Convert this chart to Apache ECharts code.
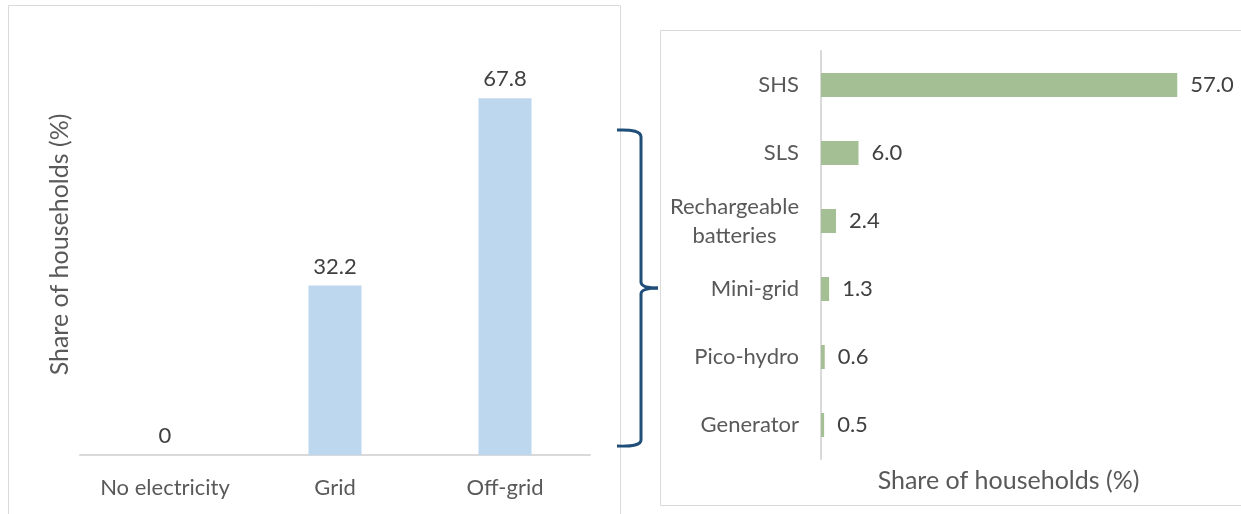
<!DOCTYPE html>
<html>
<head>
<meta charset="utf-8">
<script src="https://cdn.jsdelivr.net/npm/echarts@6/dist/echarts.min.js"></script>
<style>
  html, body { margin: 0; padding: 0; background: #fff; }
  #chart { width: 1241px; height: 514px; }
</style>
</head>
<body>
<div id="chart"></div>
<script>
// left panel: access to electricity
const accessCategories = ['No electricity', 'Grid', 'Off-grid'];
const accessValues = [0, 32.2, 67.8];

// right panel: off-grid breakdown (top to bottom)
const offgridCategories = ['SHS', 'SLS', 'Rechargeable\nbatteries', 'Mini-grid', 'Pico-hydro', 'Generator'];
const offgridValues = [57.0, 6.0, 2.4, 1.3, 0.6, 0.5];

const font = 'Lato';
const textColor = '#595959';

const myChart = echarts.init(document.getElementById('chart'));

// curly brace linking off-grid to the breakdown
const braceStyle = { stroke: '#1f4e79', lineWidth: 3, fill: 'none' };
const brace = [
  { type: 'bezierCurve', shape: { x1: 617, y1: 130, cpx1: 641, cpy1: 129, x2: 641, y2: 137 } },
  { type: 'line', shape: { x1: 641, y1: 137, x2: 641, y2: 282 } },
  { type: 'bezierCurve', shape: { x1: 641, y1: 282, cpx1: 641, cpy1: 288, x2: 658, y2: 288 } },
  { type: 'bezierCurve', shape: { x1: 658, y1: 288, cpx1: 641, cpy1: 288, x2: 641, y2: 294 } },
  { type: 'line', shape: { x1: 641, y1: 294, x2: 641, y2: 440 } },
  { type: 'bezierCurve', shape: { x1: 641, y1: 440, cpx1: 641, cpy1: 447, x2: 617, y2: 446 } }
].map(function (g) { g.style = braceStyle; return g; });

const option = {
  animation: false,
  textStyle: { fontFamily: font },
  graphic: [
    {
      type: 'rect',
      shape: { x: 8.5, y: 5.5, width: 612, height: 520 },
      style: { fill: 'none', stroke: '#d9d9d9', lineWidth: 1 },
      z: -1
    },
    {
      type: 'rect',
      shape: { x: 660.5, y: 30.5, width: 600, height: 475 },
      style: { fill: 'none', stroke: '#d9d9d9', lineWidth: 1 },
      z: -1
    }
  ].concat(brace),
  grid: [
    { left: 80, right: 651, top: 34, bottom: 59 },
    { left: 821, right: 45, top: 51, bottom: 55 }
  ],
  xAxis: [
    {
      gridIndex: 0,
      type: 'category',
      data: accessCategories,
      axisLine: { lineStyle: { color: '#d9d9d9', width: 2 } },
      axisTick: { show: false },
      axisLabel: { color: textColor, fontSize: 22, margin: 22, fontFamily: font }
    },
    {
      gridIndex: 1,
      type: 'value',
      min: 0,
      max: 60,
      axisLine: { show: false },
      axisTick: { show: false },
      axisLabel: { show: false },
      splitLine: { show: false },
      name: 'Share of households (%)',
      nameLocation: 'middle',
      nameGap: 9,
      nameTextStyle: { color: textColor, fontSize: 25, fontFamily: font }
    }
  ],
  yAxis: [
    {
      gridIndex: 0,
      type: 'value',
      min: 0,
      max: 80,
      axisLine: { show: false },
      axisTick: { show: false },
      axisLabel: { show: false },
      splitLine: { show: false },
      name: 'Share of households (%)',
      nameLocation: 'middle',
      nameGap: 8,
      nameTextStyle: { color: textColor, fontSize: 25, fontFamily: font }
    },
    {
      gridIndex: 1,
      type: 'category',
      inverse: true,
      data: offgridCategories,
      axisLine: { lineStyle: { color: '#d9d9d9', width: 2 } },
      axisTick: { show: false },
      axisLabel: {
        color: textColor,
        fontSize: 22,
        margin: 22,
        lineHeight: 29,
        fontFamily: font,
        formatter: function (v) { return '{c|' + v + '}'; },
        rich: {
          c: { color: textColor, fontSize: 22, lineHeight: 29, align: 'center', fontFamily: font }
        }
      }
    }
  ],
  series: [
    {
      type: 'bar',
      xAxisIndex: 0,
      yAxisIndex: 0,
      data: accessValues,
      barWidth: 53,
      itemStyle: { color: '#bdd7ee' },
      label: {
        show: true,
        position: 'top',
        distance: 8,
        color: '#404040',
        fontSize: 22,
        fontFamily: font
      }
    },
    {
      type: 'bar',
      xAxisIndex: 1,
      yAxisIndex: 1,
      data: offgridValues,
      barWidth: 24,
      itemStyle: { color: '#a5bf94' },
      label: {
        show: true,
        position: 'right',
        distance: 13,
        color: '#404040',
        fontSize: 22,
        fontFamily: font,
        formatter: function (p) { return p.value.toFixed(1); }
      }
    }
  ]
};

myChart.setOption(option);

window.addEventListener('resize', function () {
  myChart.resize();
});
</script>
</body>
</html>
